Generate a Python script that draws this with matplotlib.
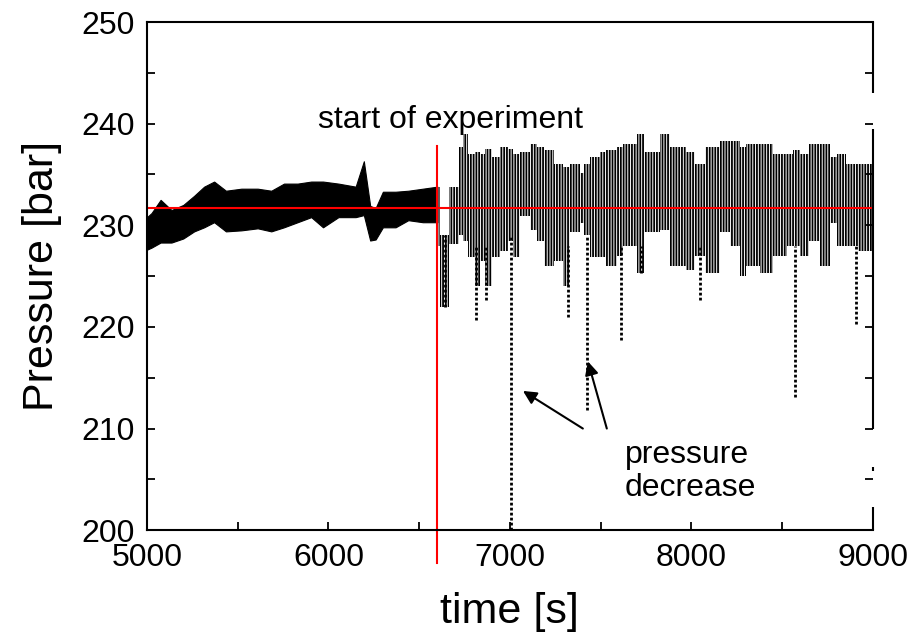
import matplotlib
matplotlib.use('Agg')
import matplotlib.pyplot as plt
from matplotlib.ticker import MultipleLocator

plt.rcParams['font.family'] = ['Liberation Sans', 'DejaVu Sans']
plt.rcParams['hatch.linewidth'] = 1.3

# Envelope of the pressure signal
# before the experiment: time [s], lowest / highest pressure [bar]
pre_t = [5000, 5025, 5075, 5135, 5200, 5260, 5315, 5370, 5435, 5520,
         5610, 5685, 5755, 5830, 5905, 5970, 6055, 6150, 6195, 6230,
         6260, 6300, 6370, 6440, 6520, 6600]
pre_lo = [227.6, 227.8, 228.3, 228.3, 228.7, 229.4, 229.8, 230.3, 229.4, 229.5,
          229.7, 229.4, 229.8, 230.3, 230.8, 229.8, 230.8, 230.8, 231.0, 228.5,
          228.6, 229.8, 229.8, 230.5, 230.3, 230.3]
pre_hi = [230.8, 231.2, 232.5, 231.5, 232.0, 232.9, 233.8, 234.3, 233.4, 233.6,
          233.6, 233.4, 234.1, 234.1, 234.3, 234.3, 234.1, 233.8, 236.3, 231.9,
          231.7, 233.3, 233.3, 233.4, 233.6, 233.8]

# after the start: segment start [s], lowest / highest pressure [bar]
seg_start = [6600, 6615, 6665, 6720, 6740, 6770, 6805, 6835, 6860, 6900,
             6945, 6990, 7015, 7055, 7110, 7150, 7190, 7245, 7295, 7330,
             7386, 7410, 7440, 7496, 7530, 7590, 7625, 7700, 7740, 7825,
             7880, 7970, 8020, 8075, 8157, 8212, 8267, 8300, 8377, 8450,
             8525, 8560, 8600, 8650, 8710, 8763, 8800, 8850, 8890, 8920]
seg_end = 9000
seg_lo = [228.0, 222.0, 228.2, 229.0, 228.5, 226.9, 224.0, 226.5, 224.0, 226.9,
          227.5, 228.5, 226.9, 230.9, 229.5, 228.5, 226.0, 226.5, 224.0, 229.3,
          230.2, 229.0, 226.9, 226.9, 226.0, 227.0, 228.0, 225.3, 229.3, 229.5,
          226.0, 225.6, 227.0, 225.3, 229.3, 228.0, 225.0, 226.0, 225.3, 227.0,
          228.0, 228.0, 227.0, 228.5, 226.0, 230.2, 228.0, 228.0, 228.0, 227.5]
seg_hi = [233.8, 229.0, 233.8, 237.7, 239.0, 237.0, 237.2, 237.0, 237.5, 236.7,
          237.7, 237.5, 237.0, 237.2, 238.0, 237.7, 237.4, 236.0, 235.7, 236.0,
          235.1, 236.0, 236.7, 237.2, 237.4, 237.7, 238.0, 239.0, 237.2, 239.0,
          237.7, 237.2, 236.0, 237.7, 238.3, 238.3, 237.7, 238.0, 238.0, 237.0,
          237.0, 237.4, 237.0, 238.0, 238.0, 236.7, 237.0, 236.0, 236.0, 236.0]

# Sharp pressure drops
spike_t = [6640, 6815, 6870, 7005, 7320, 7425, 7610, 7720, 8045, 8570, 8905]
spike_lo = [222.0, 220.7, 222.6, 200.0, 221.0, 211.8, 218.7, 225.3, 222.6, 213.1, 220.3]
spike_hi = [229.0, 228.0, 228.0, 229.0, 228.0, 229.0, 228.0, 228.0, 228.0, 228.0, 228.0]

p_ref = 231.7      # reference pressure
t_start = 6600     # start of experiment

fig = plt.figure(figsize=(9.13, 6.38), dpi=100)
ax = fig.add_axes([0.161, 0.169, 0.795, 0.7965])

# Signal band before the start
ax.fill_between(pre_t, pre_lo, pre_hi, facecolor='black', edgecolor='black',
                linewidth=0.8)

# Signal band after the start
for i in range(len(seg_start)):
    t0 = seg_start[i]
    t1 = seg_start[i + 1] if i + 1 < len(seg_start) else seg_end
    ax.bar(t0, seg_hi[i] - seg_lo[i], bottom=seg_lo[i], width=t1 - t0,
           align='edge', facecolor='none', edgecolor='black',
           hatch='||||||', linewidth=0)
ax.vlines(spike_t, spike_lo, spike_hi, colors='black', linewidth=2.0,
          linestyles=(0, (1, 0.8)))

# Red guide lines
ax.axhline(p_ref, color='red', linewidth=1.5)
ax.plot([t_start, t_start], [237.8, 196.8], color='red', linewidth=1.5,
        clip_on=False)

# Annotations
ax.text(5942, 240.4, 'start of experiment', fontsize=23, ha='left', va='center')
ax.text(7634, 205.8, 'pressure\ndecrease', fontsize=23, ha='left', va='center',
        linespacing=1.15)
arrow = dict(arrowstyle='-|>', color='black', linewidth=1.5, mutation_scale=20,
             shrinkA=0, shrinkB=0)
ax.annotate('', xy=(7072, 213.7), xytext=(7402, 210.0), arrowprops=arrow)
ax.annotate('', xy=(7430, 216.6), xytext=(7534, 210.0), arrowprops=arrow)

# Axes
ax.set_xlim(5000, 9000)
ax.set_ylim(200, 250)
ax.xaxis.set_major_locator(MultipleLocator(1000))
ax.xaxis.set_minor_locator(MultipleLocator(500))
ax.yaxis.set_major_locator(MultipleLocator(10))
ax.yaxis.set_minor_locator(MultipleLocator(5))
ax.tick_params(which='both', direction='in', length=6, width=1.3,
               labelsize=23, right=True, top=False)
ax.tick_params(axis='x', pad=9)
ax.tick_params(axis='y', pad=9)
for s in ax.spines.values():
    s.set_linewidth(1.5)

# Right frame line is broken in the original
ax.spines['right'].set_visible(False)
yt = ax.get_yaxis_transform()
for y0, y1 in [(243.0, 250.0), (210.0, 239.5), (205.8, 206.2), (200.0, 202.3)]:
    ax.plot([1, 1], [y0, y1], color='black', linewidth=1.5, transform=yt,
            clip_on=False, solid_capstyle='butt')

ax.set_xlabel('time [s]', fontsize=31, labelpad=14)
ax.set_ylabel('Pressure [bar]', fontsize=31, labelpad=14)

fig.savefig('out.png', dpi=100)
